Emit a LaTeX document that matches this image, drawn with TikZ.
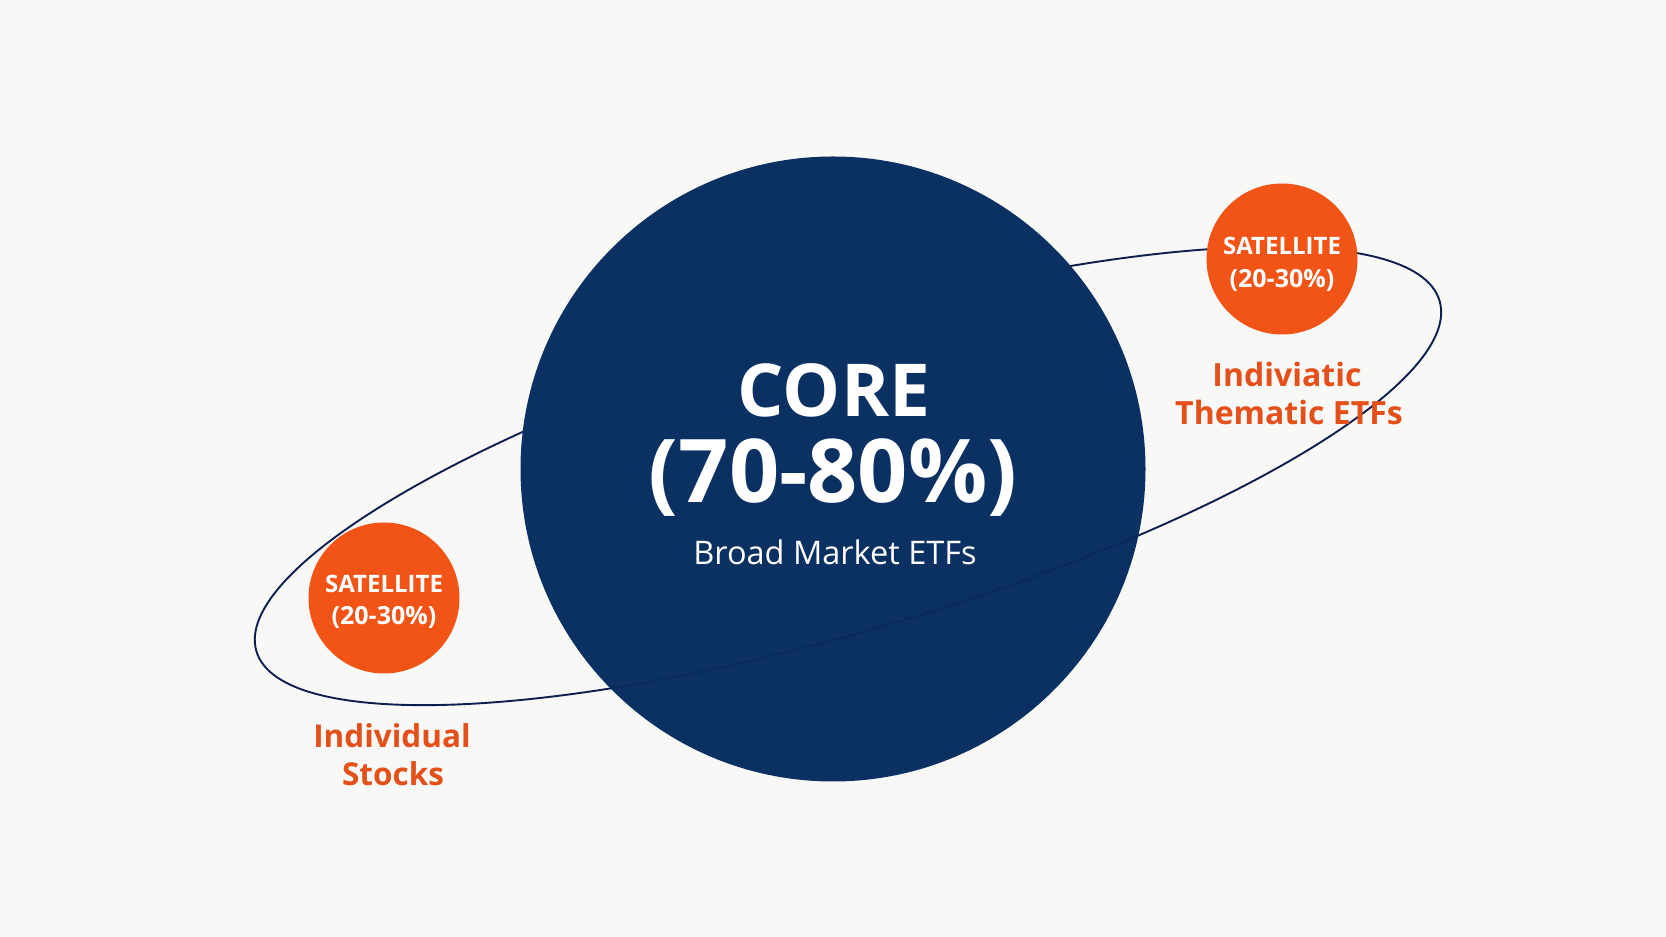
\documentclass[tikz,border=0pt]{standalone}
\usepackage{fontspec}
\setmainfont{Open Sans}
\usetikzlibrary{calc}
\definecolor{bg}{HTML}{F8F8F6}
\definecolor{navy}{HTML}{0B3163}
\definecolor{orbit}{HTML}{0E1F4F}
\definecolor{sat}{HTML}{F25317}
\definecolor{lab}{HTML}{E4501A}
\tikzset{
  txt/.style={inner sep=0pt, anchor=base, font=\bfseries},
  satcircle/.style={circle, fill=sat, minimum size=151pt, inner sep=0pt},
  orbitline/.style={draw=orbit, line width=1.9pt},
}
\begin{document}
\begin{tikzpicture}[x=1pt,y=1pt]
\useasboundingbox (0,0) rectangle (1666,937);
\fill[bg] (0,0) rectangle (1666,937);
% orbit
\coordinate (oc) at (848,461);
\draw[orbitline, rotate around={16.5:(oc)}] (oc) ellipse [x radius=617, y radius=154];
% core
\node[circle, fill=navy, minimum size=625pt, inner sep=0pt] (core) at (833,468) {};
\begin{scope}
  \clip (core.center) circle (312.5);
  \draw[draw=black, line width=1.5pt, opacity=0.15, rotate around={16.5:(oc)}] ($(oc)+(-617,0)$) arc [start angle=180, end angle=360, x radius=617, y radius=154];
\end{scope}
\node[txt, white, font=\bfseries\fontsize{73}{80}\selectfont] (coret) at (834,520) {CORE};
\node[txt, white, font=\bfseries\fontsize{88}{96}\selectfont] (corep) at (833,434) {(70-80\%)};
\node[txt, white, font=\fontsize{32.5}{36}\selectfont] (coreb) at (835,372) {Broad Market ETFs};
% left satellite
\node[satcircle] (sl) at (384,339) {};
\node[txt, white, font=\bfseries\fontsize{24}{28}\selectfont] (slt) at (384,344) {SATELLITE};
\node[txt, white, font=\bfseries\fontsize{25}{28}\selectfont] (slp) at (384,312) {(20-30\%)};
\node[txt, lab, font=\bfseries\fontsize{31.5}{38}\selectfont] (sll1) at (392,189) {Individual};
\node[txt, lab, font=\bfseries\fontsize{31.5}{38}\selectfont] (sll2) at (393,151) {Stocks};
% right satellite
\node[satcircle] (sr) at (1282,678) {};
\node[txt, white, font=\bfseries\fontsize{24}{28}\selectfont] (srt) at (1282,682) {SATELLITE};
\node[txt, white, font=\bfseries\fontsize{25}{28}\selectfont] (srp) at (1282,649) {(20-30\%)};
\node[txt, lab, font=\bfseries\fontsize{32}{38}\selectfont] (srl1) at (1287,550) {Indiviatic};
\node[txt, lab, font=\bfseries\fontsize{32}{38}\selectfont] (srl2) at (1289,512) {Thematic ETFs};
\end{tikzpicture}
\end{document}
